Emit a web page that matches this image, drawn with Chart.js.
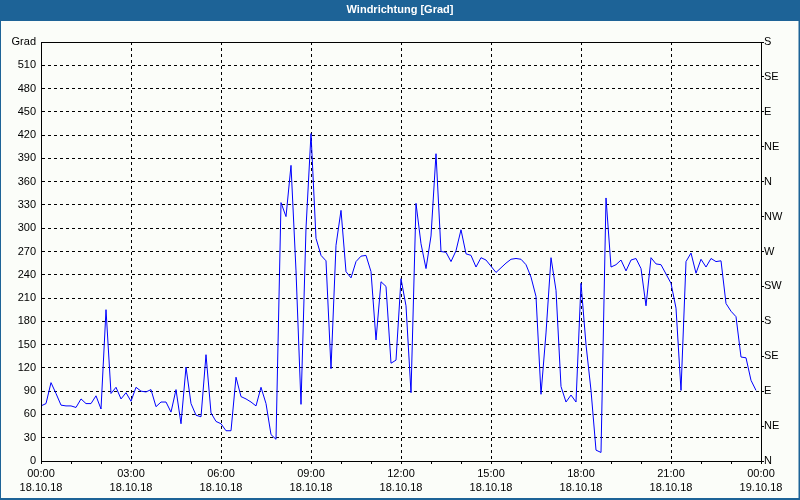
<!DOCTYPE html>
<html>
<head>
<meta charset="utf-8">
<script src="https://cdn.jsdelivr.net/npm/chart.js@4.4.0/dist/chart.umd.min.js"></script>
<style>
html,body{margin:0;padding:0;background:#ffffff;}
canvas{display:block;}
</style>
</head>
<body>
<canvas id="c" width="800" height="500"></canvas>
<script>
// Sample times (18.10.18, 10-minute readings)
const times = [
 '00:00','00:10','00:20','00:30','00:40','00:50',
 '01:00','01:10','01:20','01:30','01:40','01:50',
 '02:00','02:10','02:20','02:30','02:40','02:50',
 '03:00','03:10','03:20','03:30','03:40','03:50',
 '04:00','04:10','04:20','04:30','04:40','04:50',
 '05:00','05:10','05:20','05:30','05:40','05:50',
 '06:00','06:10','06:20','06:30','06:40','06:50',
 '07:00','07:10','07:20','07:30','07:40','07:50',
 '08:00','08:10','08:20','08:30','08:40','08:50',
 '09:00','09:10','09:20','09:30','09:40','09:50',
 '10:00','10:10','10:20','10:30','10:40','10:50',
 '11:00','11:10','11:20','11:30','11:40','11:50',
 '12:00','12:10','12:20','12:30','12:40','12:50',
 '13:00','13:10','13:20','13:30','13:40','13:50',
 '14:00','14:10','14:20','14:30','14:40','14:50',
 '15:00','15:10','15:20','15:30','15:40','15:50',
 '16:00','16:10','16:20','16:30','16:40','16:50',
 '17:00','17:10','17:20','17:30','17:40','17:50',
 '18:00','18:10','18:20','18:30','18:40','18:50',
 '19:00','19:10','19:20','19:30','19:40','19:50',
 '20:00','20:10','20:20','20:30','20:40','20:50',
 '21:00','21:10','21:20','21:30','21:40','21:50',
 '22:00','22:10','22:20','22:30','22:40','22:50',
 '23:00','23:10','23:20','23:30','23:40','23:50'
];

// Wind direction in degrees
const direction = [
  71, 74,101, 87, 72, 71,
  71, 69, 80, 74, 74, 84,
  67,195, 87, 95, 80, 88,
  77, 95, 90, 89, 92, 70,
  76, 76, 63, 92, 48,121,
  74, 59, 57,137, 62, 51,
  48, 39, 39,108, 83, 80,
  76, 71, 95, 74, 34, 28,
 333,315,381,245, 73,300,
 422,287,265,258,119,278,
 323,244,236,257,264,265,
 244,156,231,225,126,130,
 235,200, 88,332,280,248,
 290,396,270,269,257,271,
 298,267,265,250,262,259,
 251,243,249,255,260,261,
 260,253,237,212, 86,165,
 262,220, 96, 76, 85, 76,
 229,150, 91, 14, 11,339,
 250,253,259,245,259,261,
 248,200,262,254,253,241,
 229,197, 91,257,268,242,
 260,250,261,257,258,203,
 193,186,134,133,104, 91
];

// Axis tick labels
const hourLabels = ['00:00','03:00','06:00','09:00','12:00','15:00','18:00','21:00','00:00'];
const dateLabels = ['18.10.18','18.10.18','18.10.18','18.10.18','18.10.18','18.10.18','18.10.18','18.10.18','19.10.18'];
const compassLabels = ['N','NE','E','SE','S','SW','W','NW','N','NE','E','SE','S'];
const unitLabel = 'Grad';
const titleText = 'Windrichtung [Grad]';

const FONT = "'Liberation Sans', Arial, sans-serif";
const BAR_BLUE = '#1d6397';
const PANEL_BG = '#fbfdf9';

function toHours(t){ const p = t.split(':'); return (+p[0]) + (+p[1])/60; }
const points = times.map((t,i)=>({x: toHours(t), y: direction[i]}));

const framePlugin = {
  id: 'frame',
  beforeDraw(chart){
    const ctx = chart.ctx;
    ctx.save();
    ctx.fillStyle = BAR_BLUE;
    ctx.fillRect(0,0,chart.width,chart.height);
    ctx.fillStyle = PANEL_BG;
    ctx.fillRect(1,21,chart.width-2.5,chart.height-23);
    ctx.restore();
  },
  afterDraw(chart){
    const a = chart.chartArea;
    const ctx = chart.ctx;
    ctx.save();
    ctx.strokeStyle = '#000';
    ctx.lineWidth = 1;
    ctx.setLineDash([]);
    ctx.strokeRect(Math.round(a.left)+0.5, Math.round(a.top)+0.5, Math.round(a.right-a.left)-1+1, Math.round(a.bottom-a.top));
    ctx.restore();
  }
};

new Chart(document.getElementById('c'), {
  type: 'line',
  data: {
    datasets: [{
      data: points,
      borderColor: '#0000ff',
      borderWidth: 1,
      pointRadius: 0,
      tension: 0,
      fill: false
    }]
  },
  options: {
    responsive: false,
    animation: false,
    devicePixelRatio: 1,
    events: [],
    layout: { padding: 0 },
    plugins: {
      legend: { display: false },
      tooltip: { enabled: false },
      title: {
        display: true,
        text: titleText,
        color: '#ffffff',
        font: { family: FONT, size: 11, weight: 'bold', lineHeight: 1.2 },
        padding: { top: 3.5, bottom: 25.3 }
      }
    },
    scales: {
      x: {
        type: 'linear',
        min: 0, max: 24,
        afterFit(s){ s.height = 39; },
        ticks: {
          stepSize: 1, autoSkip: false, maxRotation: 0, minRotation: 0,
          color: '#000', padding: 3,
          font: { family: FONT, size: 11, lineHeight: 1.27 },
          callback(v){ return (v % 3 === 0) ? [hourLabels[v/3], dateLabels[v/3]] : ''; }
        },
        grid: {
          color(ctx){ const v = ctx.tick && ctx.tick.value; return (v % 3 === 0 && v > 0 && v < 24) ? '#000' : 'rgba(0,0,0,0)'; },
          tickColor: '#000', tickLength: 3, tickBorderDash: [], drawTicks: true, lineWidth: 1
        },
        border: { display: true, color: '#000', dash: [3,3] }
      },
      y: {
        position: 'left',
        min: 0, max: 540,
        afterFit(s){ s.width = 41; },
        ticks: {
          stepSize: 30, color: '#000', padding: 5,
          font: { family: FONT, size: 11 },
          callback(v){ return v === 540 ? unitLabel : String(v); }
        },
        grid: {
          color(ctx){ const v = ctx.tick && ctx.tick.value; return (v > 0 && v < 540) ? '#000' : 'rgba(0,0,0,0)'; },
          drawTicks: false, lineWidth: 1
        },
        border: { display: true, color: '#000', dash: [3,3] }
      },
      y2: {
        position: 'right',
        min: 0, max: 540,
        afterFit(s){ s.width = 39; },
        ticks: {
          stepSize: 45, color: '#000', padding: 0,
          font: { family: FONT, size: 11 },
          callback(v){ return compassLabels[Math.round(v/45)]; }
        },
        grid: { drawOnChartArea: false, drawTicks: true, tickLength: 3, tickColor: '#000', tickBorderDash: [], color: '#000' },
        border: { display: true, color: '#000' }
      }
    }
  },
  plugins: [framePlugin]
});
</script>
</body>
</html>
